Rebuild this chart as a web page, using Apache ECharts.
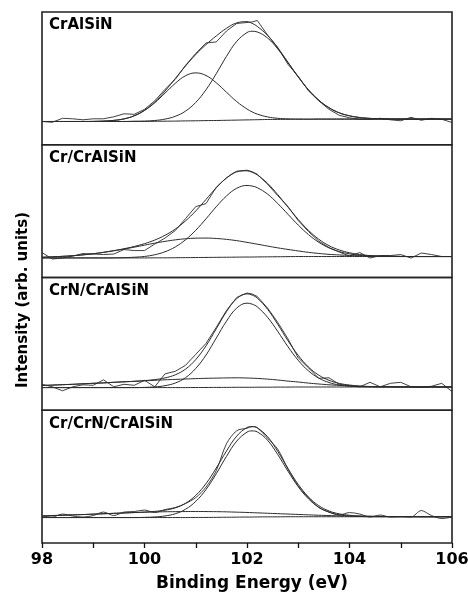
<!DOCTYPE html>
<html>
<head>
<meta charset="utf-8">
<script src="https://cdn.jsdelivr.net/npm/echarts@6/dist/echarts.min.js"></script>
<style>
  html, body { margin: 0; padding: 0; background: #fff; }
  #chart { width: 468px; height: 595px; }
</style>
</head>
<body>
<div id="chart"></div>
<script>
// binding energy grid (eV), one extra point at the main peak
const energy = [98.0, 98.2, 98.4, 98.6, 98.8, 99.0, 99.2, 99.4, 99.6, 99.8,
  100.0, 100.2, 100.4, 100.6, 100.8, 101.0, 101.2, 101.4, 101.6, 101.8,
  102.0, 102.1, 102.2, 102.4, 102.6, 102.8, 103.0, 103.2, 103.4, 103.6, 103.8,
  104.0, 104.2, 104.4, 104.6, 104.8, 105.0, 105.2, 105.4, 105.6, 105.8, 106.0];
const xTickValues = [98, 100, 102, 104, 106];
const panelNames = ["CrAlSiN", "Cr/CrAlSiN", "CrN/CrAlSiN", "Cr/CrN/CrAlSiN"];

// CrAlSiN
const rawP1 = [23.3, 22.5, 26.5, 26.0, 25.0, 26.0, 26.0, 28.0, 31.0, 30.5, 35.5, 44.0, 55.5, 65.5, 79.5, 91.5, 102.0, 103.0, 114.0, 121.5, 122.5, 123.0, 124.5, 110.0, 97.5, 80.5, 68.5, 54.0, 44.0, 35.5, 29.5, 27.0, 25.5, 25.5, 26.5, 25.0, 24.0, 27.5, 24.5, 26.5, 25.5, 22.3];
const baseP1 = [23.3, 23.3, 23.3, 23.3, 23.3, 23.3, 23.3, 23.3, 23.3, 23.4, 23.4, 23.5, 23.6, 23.7, 23.9, 24.0, 24.2, 24.3, 24.5, 24.7, 24.9, 25.0, 25.1, 25.3, 25.4, 25.5, 25.6, 25.6, 25.7, 25.7, 25.7, 25.7, 25.7, 25.7, 25.7, 25.7, 25.7, 25.7, 25.7, 25.7, 25.7, 25.7];
const peakAP1 = [0, 0, 0, 0, 0, 0.1, 0.4, 1.1, 2.6, 5.6, 10.9, 18.5, 28.1, 37.8, 45.2, 48.0, 45.2, 37.8, 28.1, 18.5, 10.9, 7.9, 5.6, 2.6, 1.1, 0.4, 0.1, 0, 0, 0, 0, 0, 0, 0, 0, 0, 0, 0, 0, 0, 0, 0];
const peakBP1 = [0, 0, 0, 0, 0, 0, 0, 0, 0, 0.1, 0.3, 0.8, 2.1, 4.8, 9.8, 18.4, 30.9, 46.9, 64.1, 78.9, 87.5, 88.7, 87.9, 81.7, 70.6, 56.7, 42.3, 29.4, 19.0, 11.4, 6.3, 3.3, 1.6, 0.7, 0.3, 0.1, 0, 0, 0, 0, 0, 0];

// Cr/CrAlSiN
const rawP2 = [25.0, 18.5, 19.5, 21.5, 24.0, 23.5, 23.0, 23.5, 28.0, 27.0, 27.0, 33.5, 39.5, 47.0, 59.0, 71.0, 74.0, 90.5, 100.0, 106.5, 107.5, 106.0, 103.5, 93.5, 82.0, 71.0, 57.0, 46.0, 36.5, 30.0, 25.5, 21.5, 25.0, 19.5, 22.0, 22.0, 23.0, 19.5, 24.5, 23.0, 21.0, 21.0];
const baseP2 = [19.6, 19.6, 19.6, 19.6, 19.6, 19.6, 19.6, 19.6, 19.6, 19.6, 19.6, 19.7, 19.7, 19.8, 19.9, 20.0, 20.1, 20.2, 20.3, 20.4, 20.5, 20.5, 20.6, 20.7, 20.8, 20.9, 21.0, 21.0, 21.0, 21.0, 21.0, 21.0, 21.0, 21.0, 21.0, 21.0, 21.0, 21.0, 21.0, 21.0, 21.0, 21.0];
const peakAP2 = [0.7, 1.1, 1.6, 2.2, 3.1, 4.2, 5.6, 7.2, 8.9, 10.8, 12.8, 14.7, 16.5, 17.9, 18.9, 19.4, 19.4, 18.9, 17.9, 16.5, 14.7, 13.8, 12.8, 10.8, 8.9, 7.2, 5.6, 4.2, 3.1, 2.2, 1.6, 1.1, 0.7, 0.4, 0.3, 0.2, 0.1, 0, 0, 0, 0, 0];
const peakBP2 = [0, 0, 0, 0, 0, 0, 0, 0.1, 0.3, 0.7, 1.5, 3.1, 6.1, 10.8, 17.9, 27.3, 38.7, 50.7, 61.4, 69.0, 71.7, 71.1, 69.4, 62.9, 53.3, 42.4, 31.5, 22.0, 14.3, 8.7, 5.0, 2.7, 1.3, 0.6, 0.3, 0.1, 0, 0, 0, 0, 0, 0];

// CrN/CrAlSiN
const rawP3 = [26.0, 23.5, 19.5, 23.5, 25.5, 25.0, 30.5, 23.5, 26.0, 25.0, 30.0, 23.5, 36.5, 39.0, 45.0, 56.0, 67.0, 83.0, 100.0, 113.0, 117.5, 116.5, 114.0, 102.5, 88.0, 71.5, 52.5, 42.5, 32.0, 32.5, 26.0, 24.5, 23.5, 28.0, 23.5, 27.0, 28.0, 23.5, 23.0, 24.0, 27.0, 18.7];
const baseP3 = [22.7, 22.7, 22.7, 22.7, 22.7, 22.7, 22.7, 22.7, 22.7, 22.7, 22.7, 22.7, 22.7, 22.7, 22.7, 22.8, 22.8, 22.9, 22.9, 23.0, 23.0, 23.0, 23.1, 23.1, 23.2, 23.2, 23.3, 23.3, 23.3, 23.3, 23.3, 23.3, 23.3, 23.3, 23.3, 23.3, 23.3, 23.3, 23.3, 23.3, 23.3, 23.3];
const peakAP3 = [2.1, 2.5, 2.9, 3.3, 3.8, 4.3, 4.7, 5.3, 5.8, 6.3, 6.8, 7.3, 7.8, 8.2, 8.6, 8.9, 9.2, 9.3, 9.5, 9.5, 9.3, 9.1, 8.8, 8.1, 7.1, 6.0, 5.0, 3.9, 3.0, 2.2, 1.6, 1.1, 0.7, 0.4, 0.3, 0.2, 0.1, 0.1, 0, 0, 0, 0];
const peakBP3 = [0, 0, 0, 0, 0, 0, 0, 0, 0, 0, 0.2, 0.7, 1.9, 4.6, 9.9, 19.1, 32.5, 49.4, 66.4, 79.4, 84.3, 83.3, 80.5, 70.1, 55.8, 40.4, 26.7, 16.1, 8.9, 4.5, 2.0, 0.9, 0.3, 0.1, 0, 0, 0, 0, 0, 0, 0, 0];

// Cr/CrN/CrAlSiN
const rawP4 = [27.0, 26.0, 29.0, 27.0, 26.0, 27.5, 31.0, 27.5, 31.0, 31.5, 33.0, 30.5, 33.5, 35.5, 39.5, 45.5, 56.0, 72.5, 99.5, 112.5, 115.0, 116.5, 115.5, 105.0, 94.0, 74.0, 57.0, 45.5, 35.5, 31.0, 28.0, 30.5, 29.0, 26.0, 28.0, 26.0, 26.5, 26.0, 32.5, 27.5, 24.5, 26.0];
const baseP4 = [25.5, 25.5, 25.5, 25.5, 25.5, 25.5, 25.5, 25.5, 25.5, 25.5, 25.5, 25.5, 25.5, 25.5, 25.5, 25.6, 25.6, 25.7, 25.8, 25.9, 26.0, 26.0, 26.1, 26.2, 26.2, 26.3, 26.3, 26.3, 26.3, 26.3, 26.3, 26.3, 26.3, 26.3, 26.3, 26.3, 26.3, 26.3, 26.3, 26.3, 26.3, 26.3];
const peakAP4 = [1.6, 2.0, 2.3, 2.7, 3.0, 3.4, 3.8, 4.2, 4.6, 5.0, 5.3, 5.6, 5.8, 5.9, 6.0, 6.0, 5.9, 5.7, 5.4, 5.0, 4.6, 4.4, 4.1, 3.6, 3.2, 2.7, 2.3, 1.9, 1.5, 1.2, 0.9, 0.7, 0.5, 0.4, 0.3, 0.2, 0.1, 0.1, 0, 0, 0, 0];
const peakBP4 = [0, 0, 0, 0, 0, 0, 0, 0, 0, 0, 0.2, 0.6, 1.6, 3.8, 8.3, 16.1, 28.0, 43.7, 61.0, 76.2, 85.1, 86.3, 85.2, 76.8, 62.4, 45.6, 30.1, 17.9, 9.6, 4.6, 2.0, 0.8, 0.3, 0.1, 0, 0, 0, 0, 0, 0, 0, 0];

const panels = [
  { raw: rawP1, base: baseP1, peakA: peakAP1, peakB: peakBP1 },
  { raw: rawP2, base: baseP2, peakA: peakAP2, peakB: peakBP2 },
  { raw: rawP3, base: baseP3, peakA: peakAP3, peakB: peakBP3 },
  { raw: rawP4, base: baseP4, peakA: peakAP4, peakB: peakBP4 },
];

const FONT = "DejaVu Sans";
const LINE = "#2b2b2b";
const gridLeft = 42;
const gridRight = 16;
const gridTop = 12;
const panelH = 132.75;

function pairs(ys) {
  return energy.map((x, i) => [x, ys[i]]);
}

const chart = echarts.init(document.getElementById("chart"));

const grids = [];
const xAxes = [];
const yAxes = [];
const series = [];
const graphics = [];

panels.forEach((p, k) => {
  const last = k === panels.length - 1;
  const top = gridTop + k * panelH;
  grids.push({
    left: gridLeft,
    right: gridRight,
    top: top,
    height: panelH,
    containLabel: false,
    outerBoundsMode: "none",
    show: true,
    borderColor: "#222",
    borderWidth: 1.6,
  });
  xAxes.push({
    type: "value",
    gridIndex: k,
    min: 98,
    max: 106,
    interval: 2,
    axisLine: { show: false },
    axisTick: { show: last, length: 5, lineStyle: { color: "#111", width: 1.3 } },
    minorTick: { show: last, splitNumber: 2, length: 5, lineStyle: { color: "#111", width: 1.3 } },
    axisLabel: {
      show: last,
      margin: 9,
      color: "#000",
      fontFamily: FONT,
      fontWeight: "bold",
      fontSize: 16,
      formatter: (v) => (xTickValues.indexOf(v) >= 0 ? String(v) : ""),
    },
    splitLine: { show: false },
  });
  yAxes.push({ type: "value", gridIndex: k, min: 0, max: 133, show: false });

  // fitted peaks sit on the background line
  const peakA = p.base.map((b, i) => b + p.peakA[i]);
  const peakB = p.base.map((b, i) => b + p.peakB[i]);
  const envelope = p.base.map((b, i) => b + p.peakA[i] + p.peakB[i]);

  const common = { type: "line", xAxisIndex: k, yAxisIndex: k, showSymbol: false, silent: true, animation: false };
  series.push(Object.assign({}, common, {
    data: pairs(p.raw),
    smooth: last ? 0.3 : false,
    lineStyle: { color: LINE, width: 0.9 },
  }));
  series.push(Object.assign({}, common, { data: pairs(envelope), smooth: 0.4, lineStyle: { color: LINE, width: 1 } }));
  series.push(Object.assign({}, common, { data: pairs(peakA), smooth: 0.4, lineStyle: { color: LINE, width: 1 } }));
  series.push(Object.assign({}, common, { data: pairs(peakB), smooth: 0.4, lineStyle: { color: LINE, width: 1 } }));
  series.push(Object.assign({}, common, { data: pairs(p.base), smooth: 0.4, lineStyle: { color: LINE, width: 1 } }));

  graphics.push({
    type: "text",
    left: 49,
    top: top + 6,
    style: { text: panelNames[k], font: "bold 15px " + FONT, fill: "#000" },
  });
});

graphics.push({
  type: "text",
  x: 23,
  y: 300,
  rotation: Math.PI / 2,
  style: {
    text: "Intensity (arb. units)",
    font: "bold 15px " + FONT,
    fill: "#000",
    align: "center",
    verticalAlign: "middle",
  },
});
graphics.push({
  type: "text",
  x: 252,
  y: 584,
  style: {
    text: "Binding Energy (eV)",
    font: "bold 17px " + FONT,
    fill: "#000",
    align: "center",
    verticalAlign: "middle",
  },
});

chart.setOption({
  backgroundColor: "#fff",
  animation: false,
  grid: grids,
  xAxis: xAxes,
  yAxis: yAxes,
  series: series,
  graphic: graphics,
});
</script>
</body>
</html>
